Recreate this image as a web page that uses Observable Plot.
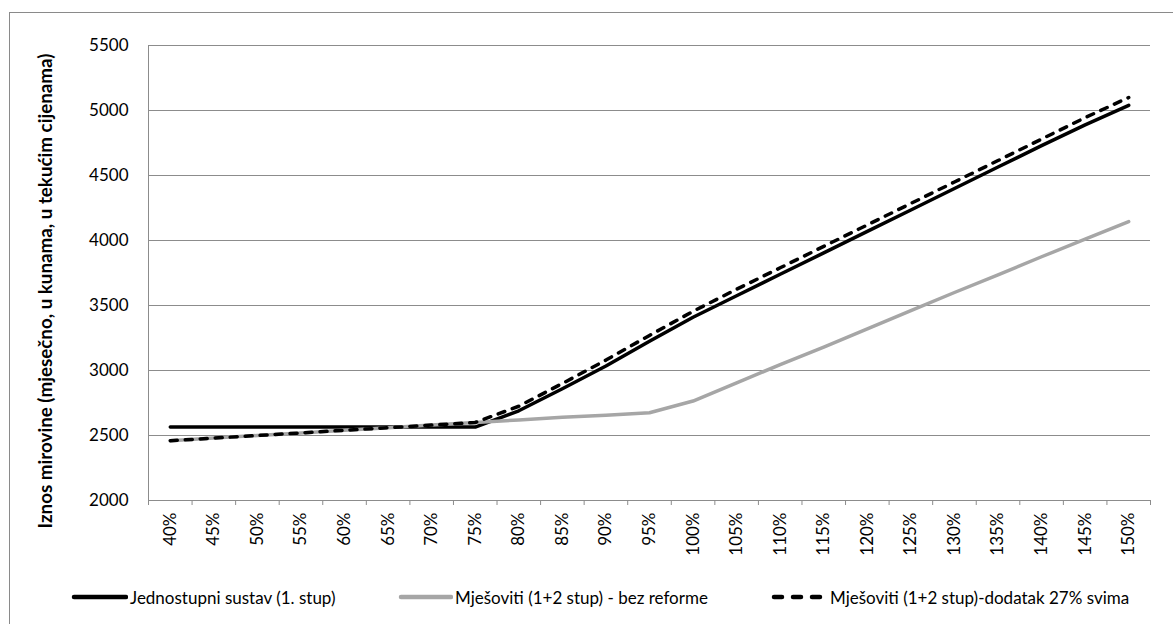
<!DOCTYPE html>
<html>
<head>
<meta charset="utf-8">
<script src="https://cdn.jsdelivr.net/npm/d3@7"></script>
<script src="https://cdn.jsdelivr.net/npm/@observablehq/plot@0.6"></script>
<style>
  body { margin: 0; background: #fff; }
  #wrap { position: relative; width: 1173px; height: 624px; overflow: hidden; font-family: Lato, "Open Sans", sans-serif; }
  #frame { position: absolute; left: 9px; top: 12px; width: 1300px; height: 700px; border-left: 1px solid #8a8a8a; border-top: 1px solid #8a8a8a; }
  #chart { position: absolute; left: 0; top: 0; }
  .leg { position: absolute; top: 585px; height: 24px; display: flex; align-items: center; font-size: 17px; color: #000; white-space: nowrap; }
  .leg svg { display: block; margin-right: 3px; }
</style>
</head>
<body>
<div id="wrap">
  <div id="frame"></div>
  <div id="chart"></div>
  <div id="legend"></div>
</div>
<script>
// Categories (percent of average wage)
const categories = [40, 45, 50, 55, 60, 65, 70, 75, 80, 85, 90, 95, 100, 105, 110, 115, 120, 125, 130, 135, 140, 145, 150];

// Series values (pension amount, monthly, kuna)
const jednostupni = [2565, 2565, 2565, 2565, 2565, 2565, 2565, 2565, 2690, 2860, 3035, 3225, 3410, 3575, 3740, 3905, 4070, 4235, 4400, 4565, 4730, 4890, 5040];
const bezReforme  = [2460, 2480, 2500, 2520, 2540, 2560, 2580, 2600, 2620, 2640, 2655, 2675, 2765, 2905, 3045, 3180, 3320, 3460, 3600, 3735, 3875, 4010, 4145];
const dodatak     = [2460, 2480, 2500, 2520, 2540, 2560, 2580, 2600, 2725, 2900, 3080, 3270, 3455, 3625, 3790, 3955, 4120, 4285, 4450, 4615, 4780, 4945, 5100];

// Series names
const seriesNames = ["Jednostupni sustav (1. stup)", "Mješoviti (1+2 stup) - bez reforme", "Mješoviti (1+2 stup)-dodatak 27% svima"];

// Axis ticks and label
const yTicks = [2000, 2500, 3000, 3500, 4000, 4500, 5000, 5500];
const yLabel = "Iznos mirovine (mjesečno, u kunama, u tekućim cijenama)";

const step = categories[1] - categories[0];
const xDomain = [categories[0] - step / 2, categories[categories.length - 1] + step / 2];
const bounds = d3.range(categories.length + 1).map(i => xDomain[0] + step * i);

const gridColor = "#8c8c8c";
const grey = "#a6a6a6";

const plot = Plot.plot({
  width: 1173,
  height: 560,
  marginLeft: 148,
  marginRight: 23,
  marginTop: 45,
  marginBottom: 60,
  style: { fontFamily: "Lato, 'Open Sans', sans-serif", fontSize: "17px", background: "transparent", overflow: "visible" },
  x: { type: "linear", domain: xDomain },
  y: { domain: [yTicks[0], yTicks[yTicks.length - 1]] },
  marks: [
    Plot.gridY(yTicks, { stroke: gridColor, strokeOpacity: 1, strokeWidth: 1 }),
    Plot.ruleX([xDomain[0]], { y1: yTicks[0], y2: yTicks[yTicks.length - 1], stroke: gridColor }),
    Plot.ruleY([yTicks[0]], { stroke: gridColor }),
    Plot.axisX({ ticks: bounds, tickSize: 5, tickFormat: () => "", stroke: gridColor, label: null }),
    Plot.axisX({ ticks: categories, tickSize: 0, tickPadding: 12, tickRotate: -90, tickFormat: d => d + "%", label: null }),
    Plot.axisY({ ticks: yTicks, tickSize: 0, tickPadding: 20, tickFormat: d => String(d), label: null }),
    Plot.text([yLabel], { frameAnchor: "left", dx: -103, dy: 18, rotate: -90, textAnchor: "middle", fontWeight: "bold", fontSize: 18.8, fill: "#000" }),
    Plot.line(categories, { x: d => d, y: (d, i) => jednostupni[i], stroke: "#000", strokeWidth: 3.5 }),
    Plot.line(categories, { x: d => d, y: (d, i) => bezReforme[i], stroke: grey, strokeWidth: 3.5 }),
    Plot.line(categories, { x: d => d, y: (d, i) => dodatak[i], stroke: "#000", strokeWidth: 3.5, strokeDasharray: "7,8", strokeLinecap: "round" })
  ]
});
document.getElementById("chart").appendChild(plot);

// Legend
const legendItems = [
  { name: seriesNames[0], color: "#000", dash: null, left: 71, text: 130 },
  { name: seriesNames[1], color: grey, dash: null, left: 398, text: 455 },
  { name: seriesNames[2], color: "#000", dash: "8,11", left: 771, text: 830 }
];
const legend = d3.select("#legend");
legendItems.forEach(item => {
  const div = legend.append("div").attr("class", "leg").style("left", item.left + "px");
  const w = item.text - item.left - 2;
  const svg = div.append("svg").attr("width", w).attr("height", 10).style("margin-right", "2px");
  svg.append("line")
    .attr("x1", 3).attr("x2", item.dash ? w - 6 : w - 2).attr("y1", 5).attr("y2", 5)
    .attr("stroke", item.color).attr("stroke-width", 4.5).attr("stroke-linecap", "round")
    .attr("stroke-dasharray", item.dash);
  div.append("span").text(item.name);
});
</script>
</body>
</html>
